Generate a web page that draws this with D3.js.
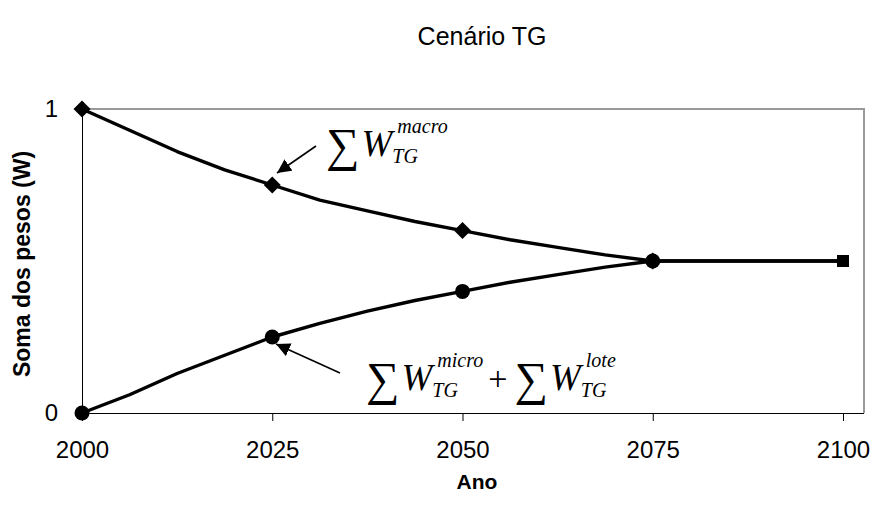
<!DOCTYPE html>
<html>
<head>
<meta charset="utf-8">
<script src="https://cdn.jsdelivr.net/npm/d3@7"></script>
<style>
  html, body { margin: 0; padding: 0; background: #fff; }
  svg { display: block; }
</style>
</head>
<body>
<svg id="chart" width="874" height="512"></svg>
<script>
// Data
const years = [2000, 2006.25, 2012.5, 2018.75, 2025, 2031.25, 2037.5, 2043.75, 2050, 2056.25, 2062.5, 2068.75, 2075, 2100];
const macroValues = [1, 0.93, 0.86, 0.80, 0.75, 0.70, 0.665, 0.63, 0.60, 0.57, 0.545, 0.52, 0.5, 0.5];
const microValues = [0, 0.06, 0.13, 0.19, 0.25, 0.295, 0.335, 0.37, 0.40, 0.43, 0.455, 0.48, 0.5, 0.5];
const markerYears = [2000, 2025, 2050, 2075];
const macroMarkers = [1, 0.75, 0.6, 0.5];
const microMarkers = [0, 0.25, 0.4, 0.5];
const endYear = [2100];
const endValue = [0.5];
const xTicks = [2000, 2025, 2050, 2075, 2100];
const yTicks = [0, 1];

const svg = d3.select('#chart');
const plotLeft = 82, plotRight = 864, plotTop = 109, plotBottom = 413;
const sans = 'Liberation Sans, Arial, sans-serif';

// x: 2000..2100 spans 82..843, the plot box goes a little further
const x = d3.scaleLinear().domain([2000, 2100]).range([plotLeft, 843]);
const y = d3.scaleLinear().domain([0, 1]).range([plotBottom, plotTop]);

// Title
svg.append('text')
  .attr('x', 482).attr('y', 45)
  .attr('text-anchor', 'middle')
  .attr('font-family', sans)
  .attr('font-size', 25)
  .text('Cenário TG');

// Plot frame (gray top/right)
svg.append('path')
  .attr('d', `M${plotLeft},${plotTop}H${plotRight}V${plotBottom}`)
  .attr('fill', 'none').attr('stroke', '#999').attr('stroke-width', 2);

// Axes
const xAxis = d3.axisBottom(x).tickValues(xTicks).tickSize(8).tickPadding(20).tickFormat(d3.format('d'));
const gx = svg.append('g').attr('transform', `translate(0,${plotBottom})`).call(xAxis);
gx.select('.domain').attr('d', `M${plotLeft},0.5H${plotRight}`).attr('stroke', '#000');
gx.selectAll('text').attr('font-family', sans).attr('font-size', 24).attr('fill', '#000');

const yAxis = d3.axisLeft(y).tickValues(yTicks).tickSize(6).tickPadding(18).tickFormat(d3.format('d'));
const gy = svg.append('g').attr('transform', `translate(${plotLeft},0)`).call(yAxis);
gy.select('.domain').attr('d', `M0.5,${plotTop}V${plotBottom + 8}`).attr('stroke', '#000');
gy.selectAll('text').attr('font-family', sans).attr('font-size', 24).attr('fill', '#000');

// Axis titles
svg.append('text')
  .attr('x', 477).attr('y', 489)
  .attr('text-anchor', 'middle')
  .attr('font-family', sans)
  .attr('font-weight', 'bold').attr('font-size', 21)
  .text('Ano');
svg.append('text')
  .attr('transform', `translate(30,264) rotate(-90)`)
  .attr('text-anchor', 'middle')
  .attr('font-family', sans)
  .attr('font-weight', 'bold').attr('font-size', 23)
  .text('Soma dos pesos (W)');

// Lines
const line = d3.line().x((d, i) => x(years[i])).y(d => y(d));
svg.append('path').datum(macroValues).attr('d', line)
  .attr('fill', 'none').attr('stroke', '#000').attr('stroke-width', 3.4).attr('stroke-linejoin', 'round');
svg.append('path').datum(microValues).attr('d', line)
  .attr('fill', 'none').attr('stroke', '#000').attr('stroke-width', 3.4).attr('stroke-linejoin', 'round');

// Markers
svg.selectAll('.diamond').data(macroMarkers).enter().append('path')
  .attr('transform', (d, i) => `translate(${x(markerYears[i])},${y(d)}) rotate(45)`)
  .attr('d', 'M-6,-6H6V6H-6Z').attr('fill', '#000');
svg.selectAll('.dot').data(microMarkers).enter().append('circle')
  .attr('cx', (d, i) => x(markerYears[i])).attr('cy', d => y(d)).attr('r', 7.5).attr('fill', '#000');
svg.selectAll('.square').data(endValue).enter().append('rect')
  .attr('x', (d, i) => x(endYear[i]) - 6).attr('y', d => y(d) - 6)
  .attr('width', 12).attr('height', 12).attr('fill', '#000');

// Arrows
svg.append('defs').append('marker')
  .attr('id', 'arrow').attr('viewBox', '0 0 10 10').attr('refX', 10).attr('refY', 5)
  .attr('markerWidth', 14).attr('markerHeight', 14).attr('markerUnits', 'userSpaceOnUse')
  .attr('orient', 'auto')
  .append('path').attr('d', 'M0,0L10,5L0,10Z').attr('fill', '#000');
svg.append('line').attr('x1', 316).attr('y1', 146).attr('x2', 277).attr('y2', 173)
  .attr('stroke', '#000').attr('stroke-width', 1.6).attr('marker-end', 'url(#arrow)');
svg.append('line').attr('x1', 340).attr('y1', 373).attr('x2', 276).attr('y2', 344)
  .attr('stroke', '#000').attr('stroke-width', 1.6).attr('marker-end', 'url(#arrow)');

// Math annotations: one <text> per formula, pieces as positioned tspans
const serif = 'Liberation Serif, Times New Roman, serif';
function drawExpr(x0, base, parts) {
  const t = svg.append('text').attr('font-family', serif).attr('fill', '#000');
  let cx = x0;
  const piece = (s, px, py, size, italic) => t.append('tspan')
    .attr('x', px).attr('y', py).attr('font-size', size)
    .attr('font-style', italic ? 'italic' : 'normal').text(s);
  parts.forEach(p => {
    if (p.sup !== undefined) {
      const sp = piece(p.sup, cx + 5, base - 23, 20, true);
      const sb = piece(p.sub, cx, base + 7, 20, true);
      cx += Math.max(sp.node().getComputedTextLength() + 5, sb.node().getComputedTextLength()) + 5;
    } else {
      const tp = piece(p.t, cx, base + (p.dy || 0), p.size, p.italic);
      cx += tp.node().getComputedTextLength() + (p.gap || 0);
    }
  });
}
drawExpr(326, 156, [
  { t: '∑', size: 47, dy: 5, gap: 2 },
  { t: 'W', size: 37, italic: true, gap: 0 },
  { sup: 'macro', sub: 'TG' }
]);
drawExpr(366, 390, [
  { t: '∑', size: 47, dy: 5, gap: 2 },
  { t: 'W', size: 37, italic: true, gap: 0 },
  { sup: 'micro', sub: 'TG' },
  { t: '+', size: 34, gap: 7 },
  { t: '∑', size: 47, dy: 5, gap: 2 },
  { t: 'W', size: 37, italic: true, gap: 0 },
  { sup: 'lote', sub: 'TG' }
]);
</script>
</body>
</html>
